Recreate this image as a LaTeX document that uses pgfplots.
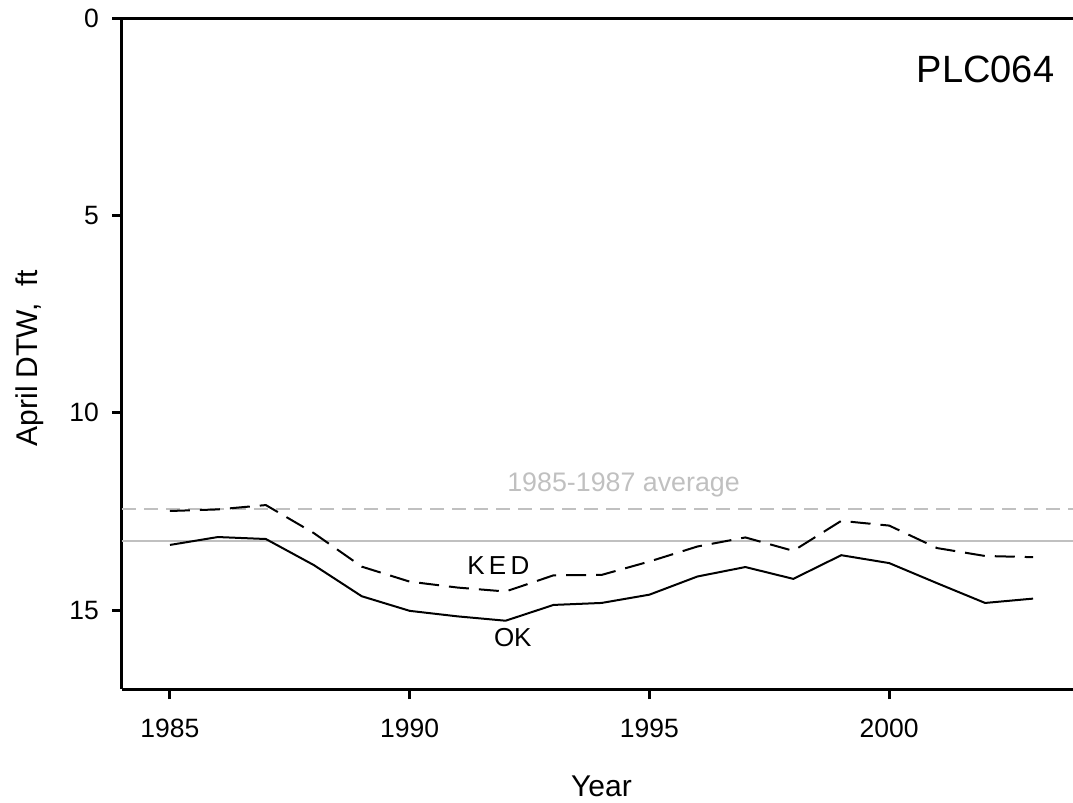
\documentclass[border=0pt]{standalone}
\usepackage{pgfplots}
\pgfplotsset{compat=1.18}
\usepackage{fontspec}
\setmainfont{Liberation Sans}
\definecolor{refgray}{RGB}{192,192,192}
\pgfplotstableread{
year ok ked
1985 13.35 12.49
1986 13.15 12.45
1987 13.20 12.34
1988 13.86 13.05
1989 14.65 13.90
1990 15.02 14.28
1991 15.16 14.43
1992 15.27 14.53
1993 14.87 14.12
1994 14.82 14.11
1995 14.61 13.77
1996 14.15 13.39
1997 13.91 13.16
1998 14.21 13.50
1999 13.61 12.74
2000 13.81 12.86
2001 14.32 13.43
2002 14.82 13.63
2003 14.71 13.66
}\datatable
\begin{document}
\begin{tikzpicture}
\begin{axis}[
  at={(61pt,57pt)}, anchor=south west,
  scale only axis, width=479.5pt, height=335.5pt,
  xmin=1984, xmax=2004, ymin=0, ymax=17, y dir=reverse,
  axis x line*=box, axis y line*=left,
  xtick={1985,1990,1995,2000}, ytick={0,5,10,15},
  xtick pos=left, ytick pos=left,
  tick align=outside, major tick length=5pt,
  tick style={line width=1.5pt, black},
  axis line style={line width=1.5pt, black},
  /pgf/number format/assume math mode=true,
  /pgf/number format/1000 sep={},
  ticklabel style={font=\fontsize{13.25}{15}\selectfont},
  xticklabel style={anchor=center, yshift=-14.5pt},
  yticklabel style={anchor=east, xshift=-3pt},
  xlabel={Year}, ylabel={April DTW,\ \ ft},
  label style={font=\fontsize{15}{18}\selectfont},
  xlabel style={at={(axis description cs:0.5,-0.1446)}, anchor=center},
  ylabel style={at={(axis description cs:-0.0959,0.4933)}, anchor=center},
  clip=false,
]
\addplot[refgray, line width=1pt, dash pattern=on 7pt off 4pt, forget plot] coordinates {(1984,12.45) (2004,12.45)};
\addplot[refgray, line width=1pt, forget plot] coordinates {(1984,13.25) (2004,13.25)};
\addplot[black, line width=1pt, dash pattern=on 10pt off 5pt] table[x=year, y=ked] {\datatable};
\addplot[black, line width=1pt] table[x=year, y=ok] {\datatable};
\node[anchor=east, font=\fontsize{19}{22}\selectfont] at (axis cs:2003.59,1.31) {PLC064};
\node[anchor=base, text=refgray, font=\fontsize{13.4}{16}\selectfont] at (axis cs:1994.46,12.0) {1985-1987 average};
\node[anchor=base, font=\fontsize{13}{15}\selectfont] at (axis cs:1991.85,14.11) {K\,E\,D};
\node[anchor=base, font=\fontsize{13}{15}\selectfont] at (axis cs:1992.15,15.93) {OK};
\end{axis}
\pgfresetboundingbox
\useasboundingbox (0,0) rectangle (536.5pt,401.5pt);
\end{tikzpicture}
\end{document}
